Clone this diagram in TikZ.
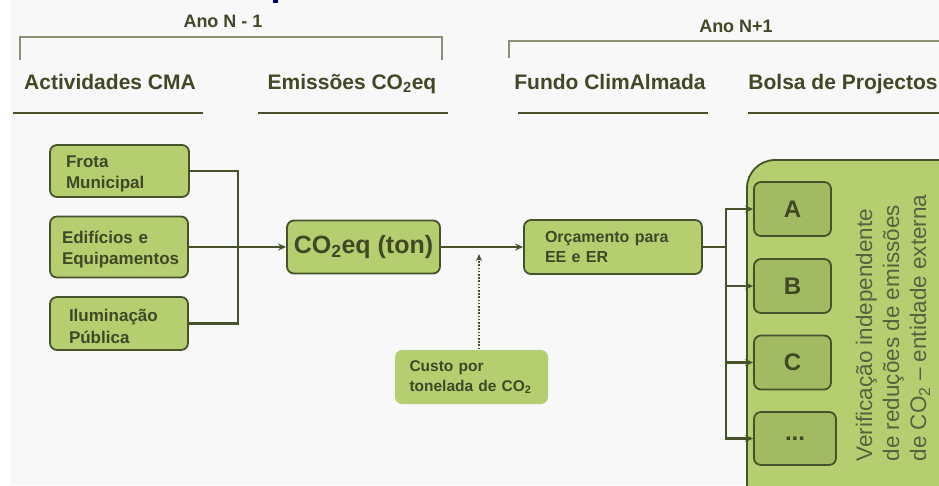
\documentclass[tikz,border=0pt]{standalone}
\usepackage{fontspec}
\setmainfont{Liberation Sans}
\usetikzlibrary{arrows.meta}

\definecolor{fundo}{RGB}{248,248,248}
\definecolor{verde}{RGB}{181,206,112}
\definecolor{verdeescuro}{RGB}{162,187,98}
\definecolor{contorno}{RGB}{70,82,42}
\definecolor{texto}{RGB}{64,72,38}
\definecolor{textoclaro}{RGB}{88,98,62}
\definecolor{chaveta}{RGB}{140,144,118}

\tikzset{
  caixa/.style={draw=contorno, fill=verde, line width=1.8pt, rounded corners=7pt, text=texto,
    font=\bfseries\fontsize{17}{21.5}\selectfont, align=left, inner ysep=0pt},
  actividade/.style={caixa, execute at begin node={\rule{0pt}{18pt}}},
  projecto/.style={caixa, fill=verdeescuro, align=center, font=\bfseries\fontsize{24}{28}\selectfont,
    minimum width=77pt, minimum height=54pt, inner sep=0pt},
  titulo/.style={text=texto, font=\bfseries\fontsize{21}{25}\selectfont, anchor=base, inner sep=0pt},
  ano/.style={text=texto, font=\bfseries\fontsize{18}{22}\selectfont, anchor=base, inner sep=0pt},
  sublinha/.style={draw=contorno, line width=2.6pt},
  chave/.style={draw=chaveta, line width=1.5pt},
  ligacao/.style={draw=contorno, line width=2.8pt},
  seta/.style={ligacao, -{Stealth[length=8pt,width=7pt]}},
}

\begin{document}
\begin{tikzpicture}[x=1pt, y=-1pt]
  \useasboundingbox (0,0) rectangle (939,485);
  \clip (0,0) rectangle (939,485);
  \fill[white] (0,0) rectangle (939,485);
  \fill[fundo] (11,0) rectangle (939,485);
  \fill[blue!50!black] (273,0) rectangle (278,3);

  % Anos e chavetas
  \node[ano] (anoA) at (223,27) {Ano N - 1};
  \node[ano] (anoB) at (736,32) {Ano N+1};
  \draw[chave] (20,60) -- (20,37) -- (442,37) -- (442,60);
  \draw[chave] (509,58) -- (509,41) -- (945,41);

  % Títulos das colunas
  \node[titulo] (tActiv) at (110,89) {Actividades CMA};
  \node[titulo] (tEmiss) at (352,89) {Emissões CO\textsubscript{2}eq};
  \node[titulo] (tFundo) at (610,89) {Fundo ClimAlmada};
  \node[titulo] (tBolsa) at (843,89) {Bolsa de Projectos};
  \draw[sublinha] (13,113) -- (203,113);
  \draw[sublinha] (258,113) -- (448,113);
  \draw[sublinha] (518,113) -- (708,113);
  \draw[sublinha] (748,113) -- (945,113);

  % Actividades
  \node[actividade, minimum height=52pt, text width=107pt, inner xsep=16pt] (frota) at (119.5,171) {Frota\\Municipal};
  \node[actividade, minimum height=61pt, text width=114pt, inner xsep=12pt] (edif) at (119,247) {Edifícios e\\Equipamentos};
  \node[actividade, minimum height=53pt, text width=100pt, inner xsep=19pt] (ilum) at (119,323.5) {Iluminação\\Pública};

  % Emissões e orçamento
  \node[caixa, align=center, minimum width=153pt, minimum height=53pt, inner sep=0pt,
    font=\bfseries\fontsize{25}{30}\selectfont] (co2) at (363.5,247) {CO\textsubscript{2}eq (ton)};
  \node[caixa, minimum height=54pt, text width=136pt, inner xsep=21pt,
    font=\bfseries\fontsize{16}{20}\selectfont] (orc) at (613,247) {Orçamento para\\EE e ER};
  \node[caixa, draw=none, minimum height=54pt, text width=124pt, inner xsep=14.5pt,
    font=\bfseries\fontsize{15.5}{20}\selectfont] (custo) at (471.5,377) {Custo por\\tonelada de CO\textsubscript{2}};

  % Bolsa de projectos
  \draw[contorno, fill=verde, line width=1.8pt, rounded corners=28pt] (747,160) rectangle (985,530);
  \node[projecto] (pA) at (792.5,209) {A};
  \node[projecto] (pB) at (792.5,286) {B};
  \node[projecto] (pC) at (792.5,362.5) {C};
  \node[projecto, minimum width=82pt, minimum height=53pt] (pD) at (795,438.5) {...};
  \node[rotate=90, align=left, text=textoclaro, inner sep=0pt,
    font=\fontsize{22.5}{27}\selectfont] (verif) at (893,328)
    {Verificação independente\\de reduções de emissões\\de CO\textsubscript{2} – entidade externa};

  % Ligações
  \coordinate (juncao) at (238,247);
  \coordinate (ramo) at (726,247);
  \coordinate (alvo) at (479,254);
  \draw[ligacao] (frota.east) -| (juncao);
  \draw[ligacao] (ilum.east) -| (juncao);
  \draw[seta] (edif.east) -- (co2.west);
  \draw[seta] (co2.east) -- (orc.west);
  \draw[contorno, line width=2.2pt, dash pattern=on 1.6pt off 1.6pt, -{Stealth[length=7pt,width=6pt]}]
    (custo.north -| alvo) -- (alvo);
  \draw[ligacao] (orc.east) -- (ramo);
  \foreach \p in {pA,pB,pC,pD}
    \draw[seta] (ramo) |- (\p.west);
\end{tikzpicture}
\end{document}
